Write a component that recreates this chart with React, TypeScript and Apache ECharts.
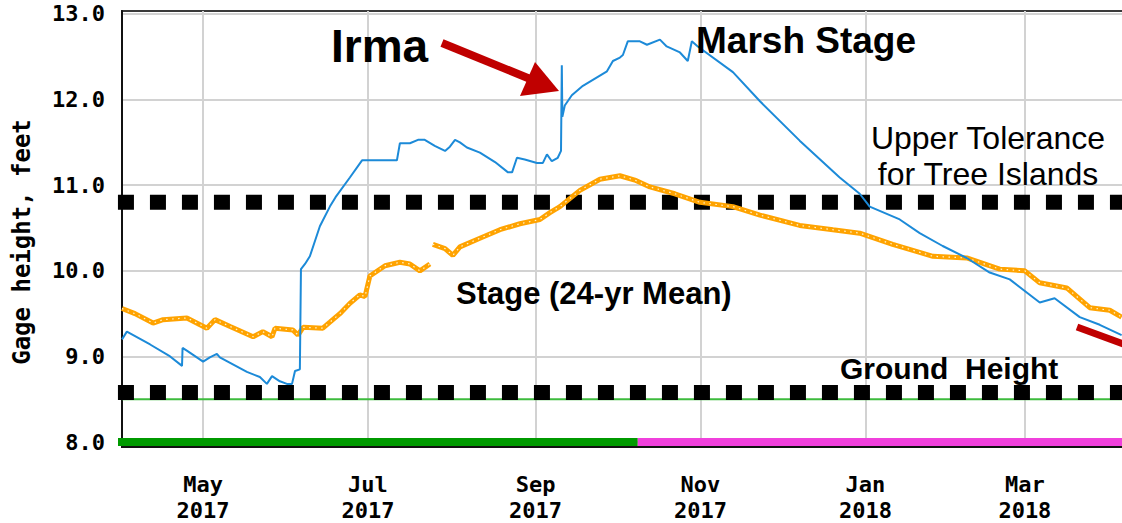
import React, { useEffect, useRef } from "react";
import * as echarts from "echarts";

// x values are days since 1 April 2017
const monthTicks = [30, 91, 153, 214, 275, 334];
const monthNames = ["May", "Jul", "Sep", "Nov", "Jan", "Mar"];
const monthYears = ["2017", "2017", "2017", "2017", "2018", "2018"];
const yTicks = [8, 9, 10, 11, 12, 13];

const marshDays = [
  0, 1.8, 10.4, 17.8, 22.2, 22.4, 24.4, 30, 32.5, 35.1, 36.2, 46.2, 51, 53.6, 55.5, 58.4, 61, 62.9, 64, 65.8,
  66.2, 67.7, 69.5, 73.2, 76.9, 79, 84.3, 88.8, 99.1, 101.7, 102.8, 106.5, 109.5, 112, 115.7, 119.5, 121.3,
  123.2, 125, 127.6, 132.4, 138, 142.8, 144.3, 146.1, 149, 153.5, 155.7, 157.2, 159, 161.2, 162.4,
  162.7, 162.9, 163.8, 166.4, 170.5, 179.4, 181.6, 184.2, 185.3, 187.1, 191.6, 194.2, 199, 201.5, 206.4,
  209.3, 210.8, 213, 226, 236, 250.7, 265.5, 272.9, 276.6, 287.7, 295.1, 303.6, 312.5, 321, 328.4, 339.5, 345,
  354.3, 361.7, 369.8,
];
const marshStage = [
  9.2, 9.29, 9.14, 9.0, 8.89, 9.1, 9.06, 8.94, 8.99, 9.03, 8.99, 8.82, 8.76, 8.68, 8.77, 8.71, 8.68, 8.68, 8.83,
  8.85, 10.02, 10.08, 10.17, 10.52, 10.75, 10.86, 11.09, 11.29, 11.29, 11.29, 11.49, 11.49, 11.53, 11.53, 11.46,
  11.4, 11.45, 11.53, 11.5, 11.44, 11.38, 11.27, 11.15, 11.15, 11.32, 11.3, 11.26, 11.26, 11.36, 11.28, 11.32,
  11.4, 12.4, 11.8, 11.93, 12.05, 12.16, 12.33, 12.45, 12.49, 12.52, 12.68, 12.68, 12.64, 12.7, 12.62, 12.55,
  12.45, 12.68, 12.62, 12.32, 11.98, 11.52, 11.09, 10.9, 10.75, 10.6, 10.44, 10.29, 10.15, 9.98, 9.9, 9.63,
  9.68, 9.46, 9.37, 9.25,
];

const meanDaysA = [
  0, 4.8, 11.5, 15.2, 24, 31.4, 34.4, 40, 48.5, 52.1, 55.5, 56.6, 63.2, 65.1, 67, 74.3, 76.9, 80.6, 84.3, 88,
  89.9, 91.7, 97.3, 102.8, 106.5, 110.2, 113.9,
];
const meanStageA = [
  9.56, 9.5, 9.39, 9.43, 9.45, 9.33, 9.43, 9.35, 9.23, 9.29, 9.23, 9.33, 9.31, 9.25, 9.34, 9.33, 9.4, 9.5,
  9.62, 9.72, 9.7, 9.94, 10.06, 10.1, 10.08, 10.0, 10.08,
];
const meanDaysB = [
  115, 119.5, 122.4, 125, 132.4, 139.8, 147.2, 154.6, 158.3, 162, 169.4, 176.8, 184.2, 189.7, 195.3, 204.5,
  213.8, 226, 236, 250.7, 263, 272.9, 285.1, 300, 312.5, 324.7, 334, 339.5, 349.5, 358, 365.4, 369.8,
];
const meanStageB = [
  10.31, 10.26, 10.18, 10.28, 10.38, 10.48, 10.55, 10.6, 10.68, 10.75, 10.94, 11.07, 11.11, 11.06, 10.98, 10.9,
  10.8, 10.75, 10.65, 10.53, 10.48, 10.44, 10.31, 10.17, 10.15, 10.02, 10.0, 9.86, 9.8, 9.57, 9.54, 9.46,
];

const upperTolerance = 10.8;
const groundMarker = 8.58;
const groundHeight = 8.5;
const bandLevel = 8.0;
const approvedStart = -1.8;
const approvedEnd = 190.8;
const dotStart = -1.5;
const xMin = 0;
const xMax = 374;

const pair = (xs: number[], ys: number[]) => xs.map((x, i) => [x, ys[i]]);

export default function App() {
  const ref = useRef<HTMLDivElement>(null);
  useEffect(() => {
    if (!ref.current) return;
    const chart = echarts.init(ref.current, null, { renderer: "svg" });
    const mono = '"DejaVu Sans Mono", monospace';
    const sans = '"Liberation Sans", Arial, sans-serif';
    const meanData = [...pair(meanDaysA, meanStageA), [114.4, null], ...pair(meanDaysB, meanStageB)];
    const flat = (a: number, b: number, v: number) => [
      [a, v],
      [b, v],
    ];
    const red = "#c00000";
    const bottomText = (x: number, y: number, text: string, font: string, center = false) => ({
      type: "text",
      x,
      y,
      z: 100,
      style: {
        text,
        font,
        fill: "#000",
        textAlign: center ? "center" : "left",
        align: center ? "center" : "left",
        textVerticalAlign: "bottom",
        verticalAlign: "bottom",
      },
    });
    chart.setOption({
      animation: false,
      grid: {
        left: 122,
        right: 7,
        top: 11,
        bottom: 69,
        show: true,
        borderColor: "#3a3a3a",
        borderWidth: 2,
        backgroundColor: "transparent",
      },
      xAxis: {
        type: "value",
        min: xMin,
        max: xMax,
        axisLine: { show: true, lineStyle: { color: "#111", width: 2 } },
        axisTick: { show: false, customValues: monthTicks },
        splitLine: { show: true, lineStyle: { color: "#d2d2d2", width: 2 } },
        axisLabel: {
          customValues: monthTicks,
          margin: 24,
          lineHeight: 26,
          fontFamily: mono,
          fontWeight: "bold",
          fontSize: 22,
          color: "#000",
          formatter: (v: number) => {
            const i = monthTicks.indexOf(Math.round(v));
            return i >= 0 ? monthNames[i] + "\n" + monthYears[i] : "";
          },
        },
      },
      yAxis: {
        type: "value",
        min: 7.943,
        max: 13.034,
        axisLine: { show: true, lineStyle: { color: "#111", width: 2 } },
        axisTick: { show: false, customValues: yTicks },
        splitLine: { show: true, lineStyle: { color: "#d2d2d2", width: 2 } },
        axisLabel: {
          customValues: yTicks,
          margin: 17,
          fontFamily: mono,
          fontWeight: "bold",
          fontSize: 22,
          color: "#000",
          formatter: (v: number) => v.toFixed(1),
        },
      },
      series: [
        {
          type: "line",
          data: flat(dotStart, xMax, upperTolerance),
          clip: false,
          showSymbol: false,
          silent: true,
          lineStyle: { color: "#000", width: 15, type: [16, 16], cap: "butt" },
          z: 3,
        },
        {
          type: "line",
          data: flat(0, xMax, groundHeight),
          showSymbol: false,
          silent: true,
          lineStyle: { color: "#3dbb3d", width: 2 },
          z: 3,
        },
        {
          type: "line",
          data: flat(dotStart, xMax, groundMarker),
          clip: false,
          showSymbol: false,
          silent: true,
          lineStyle: { color: "#000", width: 15, type: [16, 16], cap: "butt" },
          z: 3,
        },
        {
          type: "line",
          data: flat(approvedStart, approvedEnd, bandLevel),
          clip: false,
          showSymbol: false,
          silent: true,
          lineStyle: { color: "#009a00", width: 8, cap: "butt" },
          z: 3,
        },
        {
          type: "line",
          data: flat(approvedEnd, xMax, bandLevel),
          clip: false,
          showSymbol: false,
          silent: true,
          lineStyle: { color: "#f040dc", width: 8, cap: "butt" },
          z: 3,
        },
        {
          name: "Stage (24-yr Mean)",
          type: "line",
          data: meanData,
          showSymbol: false,
          connectNulls: false,
          lineStyle: { color: "#ffa300", width: 5 },
          z: 4,
        },
        {
          type: "line",
          data: meanData,
          showSymbol: false,
          connectNulls: false,
          silent: true,
          lineStyle: { color: "#fff3d0", width: 1.2, type: [1.5, 4.5] },
          z: 5,
        },
        {
          name: "Marsh Stage",
          type: "line",
          data: pair(marshDays, marshStage),
          showSymbol: false,
          lineStyle: { color: "#1c8ad8", width: 2 },
          z: 6,
        },
      ],
      graphic: [
        {
          type: "text",
          x: 22,
          y: 242,
          rotation: Math.PI / 2,
          z: 100,
          style: {
            text: "Gage height, feet",
            font: `bold 24px ${mono}`,
            fill: "#000",
            align: "center",
            verticalAlign: "middle",
            textAlign: "center",
            textVerticalAlign: "middle",
          },
        },
        bottomText(331, 69, "Irma", `bold 46px ${sans}`),
        bottomText(696, 59, "Marsh Stage", `bold 37px ${sans}`),
        bottomText(988, 154, "Upper Tolerance", `32px ${sans}`, true),
        bottomText(988, 190, "for Tree Islands", `32px ${sans}`, true),
        bottomText(456, 309, "Stage (24-yr Mean)", `bold 31px ${sans}`),
        bottomText(840, 383, "Ground  Height", `bold 30px ${sans}`),
        {
          type: "line",
          shape: { x1: 442, y1: 43, x2: 540, y2: 83 },
          style: { stroke: red, lineWidth: 8 },
          z: 100,
        },
        {
          type: "polygon",
          shape: { points: [[559, 91], [535, 62], [520, 96]] },
          style: { fill: red },
          z: 100,
        },
        {
          type: "line",
          shape: { x1: 1077, y1: 327, x2: 1140, y2: 350 },
          style: { stroke: red, lineWidth: 7 },
          z: 100,
        },
      ],
    });
    return () => chart.dispose();
  }, []);
  return (
    <div style={{ position: "absolute", left: 0, top: 0, width: 1122, height: 523, overflow: "hidden", background: "#fff" }}>
      <div ref={ref} style={{ width: 1140, height: 523 }} />
    </div>
  );
}
